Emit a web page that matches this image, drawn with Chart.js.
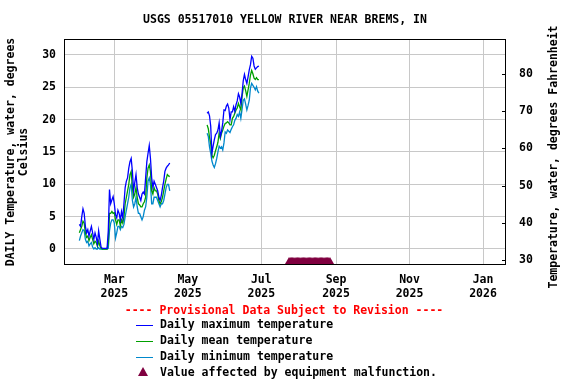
<!DOCTYPE html>
<html>
<head>
<meta charset="utf-8">
<script src="https://cdn.jsdelivr.net/npm/chart.js@4.4.1/dist/chart.umd.min.js"></script>
<style>
  html, body { margin: 0; padding: 0; background: #ffffff; }
  #wrap { width: 576px; height: 384px; }
</style>
</head>
<body>
<div id="wrap"><canvas id="tempChart" width="576" height="384"></canvas></div>
<script>
// Day numbers count from Jan 1 2025 (= day 0)

// First record: Jan 31 - Apr 16 2025
const seg1Start = 30;
const maxTemp1 = [3.8, 3.5, 5.0, 6.2, 5.5, 3.5, 2.5, 3.0, 2.0, 2.8,
  3.5, 2.5, 1.5, 2.5, 1.8, 0.8, 2.8, 1.5, 0.3, 0.1,
  0.1, 0.1, 0.1, 0.1, 2.8, 9.2, 7.0, 7.6, 8.1, 7.0,
  5.3, 4.8, 6.0, 5.5, 4.5, 5.8, 4.8, 7.0, 9.5, 10.5,
  11.0, 12.5, 13.5, 14.0, 12.0, 9.0, 10.3, 11.5, 9.5, 8.5,
  8.0, 7.5, 8.5, 8.8, 8.5, 11.0, 13.5, 14.8, 16.0, 14.0,
  11.0, 9.5, 10.5, 10.0, 9.5, 9.0, 8.0, 7.5, 8.3, 9.5,
  10.5, 12.0, 12.5, 12.8, 13.0, 13.3];
const meanTemp1 = [2.5, 3.0, 3.5, 4.3, 4.0, 2.5, 1.8, 2.0, 1.3, 1.8,
  2.2, 1.5, 0.8, 1.2, 1.0, 0.4, 1.2, 0.5, 0.1, 0.0,
  0.0, 0.0, 0.0, 0.0, 1.0, 5.5, 5.5, 5.8, 5.5, 5.6,
  4.5, 3.8, 4.5, 4.5, 3.6, 4.5, 4.0, 5.0, 7.0, 8.0,
  9.0, 10.0, 11.5, 12.0, 9.5, 8.0, 8.5, 9.5, 8.0, 7.0,
  6.8, 6.5, 6.5, 7.0, 7.3, 8.0, 11.0, 12.5, 13.0, 12.0,
  9.0, 8.5, 9.5, 9.0, 9.0, 8.5, 7.5, 7.0, 7.3, 8.0,
  9.0, 10.0, 10.8, 11.5, 11.3, 11.2];
const minTemp1 = [1.3, 2.0, 2.5, 3.0, 2.8, 1.5, 1.0, 1.2, 0.5, 0.8,
  1.0, 0.3, 0.0, 0.2, 0.0, 0.0, 0.2, 0.0, 0.0, 0.0,
  0.0, 0.0, 0.0, 0.0, 0.1, 2.8, 4.0, 4.5, 4.5, 4.0,
  1.7, 2.5, 3.5, 3.5, 3.0, 3.5, 3.3, 3.8, 5.0, 6.0,
  7.0, 8.0, 9.5, 10.0, 7.5, 6.5, 7.0, 8.0, 6.5, 5.5,
  5.5, 5.0, 4.5, 5.0, 6.0, 6.5, 8.0, 10.5, 11.0, 10.0,
  7.0, 7.0, 8.0, 8.0, 8.0, 7.5, 7.0, 6.5, 7.0, 7.0,
  7.5, 8.5, 9.5, 10.0, 10.0, 9.0];

// Second record: May 17 - Jun 29 2025
const seg2Start = 136;
const maxTemp2 = [21.0, 21.2, 20.6, 19.0, 14.8, 15.9, 16.9, 17.7, 17.9, 18.4,
  19.5, 17.4, 18.2, 19.5, 21.5, 21.4, 22.1, 22.4, 21.8, 20.0,
  21.2, 21.2, 22.0, 21.3, 22.3, 22.9, 24.0, 23.5, 22.5, 24.0,
  26.0, 27.0, 26.2, 25.6, 26.6, 27.7, 28.5, 29.8, 29.5, 28.3,
  27.8, 28.0, 28.2, 28.3];
const meanTemp2 = [19.2, 18.6, 17.3, 16.3, 14.5, 14.1, 14.5, 15.2, 15.8, 16.5,
  17.9, 17.1, 17.9, 18.4, 19.0, 19.4, 19.5, 19.7, 19.5, 19.2,
  19.2, 20.2, 20.5, 21.0, 21.5, 21.8, 22.5, 22.0, 21.5, 23.5,
  24.9, 25.2, 24.5, 23.6, 24.6, 25.6, 26.9, 27.6, 27.1, 26.4,
  26.2, 26.5, 26.2, 26.2];
const minTemp2 = [17.9, 17.4, 15.8, 14.8, 13.6, 13.0, 12.6, 13.2, 14.0, 15.0,
  15.9, 15.6, 15.8, 15.3, 16.4, 18.1, 17.9, 18.4, 18.2, 18.0,
  18.5, 18.9, 19.2, 19.9, 20.2, 20.8, 20.5, 21.2, 20.2, 21.6,
  23.0, 23.2, 22.4, 21.5, 22.2, 23.0, 24.9, 25.6, 25.3, 25.0,
  24.6, 25.1, 24.4, 24.1];

// Days flagged "equipment malfunction" (Jul 24 - Aug 27 2025)
const flagDays = [204, 205, 206, 207, 208, 209, 210, 211, 212, 213, 214, 215,
  216, 217, 218, 219, 220, 221, 222, 223, 224, 225, 226, 227, 228, 229, 230,
  231, 232, 233, 234, 235, 236, 237, 238];
const flagLevel = -2.05;

// Axis ticks
const xTickDays = [59, 120, 181, 243, 304, 365];
const xTickLabels = [['Mar', '2025'], ['May', '2025'], ['Jul', '2025'],
  ['Sep', '2025'], ['Nov', '2025'], ['Jan', '2026']];
const yTicksC = [0, 5, 10, 15, 20, 25, 30];
const yTicksF = [30, 40, 50, 60, 70, 80];

const FONT_FAMILY = '"DejaVu Sans Mono", "Liberation Mono", monospace';
const FONT = 'bold 11.5px ' + FONT_FAMILY;
const GRID_COLOR = '#c8c8c8';
const MAX_COLOR = '#0000ff';
const MEAN_COLOR = '#00a000';
const MIN_COLOR = '#0088cc';
const FLAG_COLOR = '#800040';

// Build {x, y} points with a null gap between the two records
function toPoints(arr1, arr2) {
  const pts = arr1.map((v, i) => ({ x: seg1Start + i, y: v }));
  pts.push({ x: seg1Start + arr1.length, y: null });
  arr2.forEach((v, i) => pts.push({ x: seg2Start + i, y: v }));
  return pts;
}

// Title, axis titles, frame and legend drawn by hand
const usgsExtras = {
  id: 'usgsExtras',
  afterDraw(chart) {
    const { ctx, chartArea: a, scales } = chart;
    ctx.save();
    ctx.font = FONT;
    ctx.fillStyle = '#000';
    ctx.textBaseline = 'middle';

    // Frame
    ctx.strokeStyle = '#000';
    ctx.lineWidth = 1;
    ctx.strokeRect(a.left + 0.5, a.top + 0.5, a.right - a.left - 1, a.bottom - a.top - 1);

    // Right axis tick marks (inside the frame)
    yTicksF.forEach(v => {
      const py = Math.round(scales.y2.getPixelForValue(v)) + 0.5;
      ctx.beginPath();
      ctx.moveTo(a.right - 4, py);
      ctx.lineTo(a.right, py);
      ctx.stroke();
    });

    // Title
    ctx.textAlign = 'center';
    ctx.fillText('USGS 05517010 YELLOW RIVER NEAR BREMS, IN', 285, 20);

    // Left axis title
    ctx.save();
    ctx.translate(11, (a.top + a.bottom) / 2);
    ctx.rotate(-Math.PI / 2);
    ctx.fillText('DAILY Temperature, water, degrees', 0, 0);
    ctx.fillText('Celsius', 0, 13);
    ctx.restore();

    // Right axis title (reads bottom to top)
    ctx.save();
    ctx.translate(554, 157);
    ctx.rotate(-Math.PI / 2);
    ctx.fillText('Temperature, water, degrees Fahrenheit', 0, 0);
    ctx.restore();

    // Legend
    ctx.fillStyle = '#ff0000';
    ctx.fillText('---- Provisional Data Subject to Revision ----', 284, 311);

    ctx.textAlign = 'left';
    const rows = [325, 341, 357];
    const rowColors = [MAX_COLOR, MEAN_COLOR, MIN_COLOR];
    chart.data.datasets.slice(0, 3).forEach((ds, i) => {
      ctx.fillStyle = rowColors[i];
      ctx.fillRect(136, rows[i], 17, 1);
      ctx.fillStyle = '#000';
      ctx.fillText(ds.label, 160, rows[i]);
    });

    const flagDs = chart.data.datasets[3];
    ctx.fillStyle = FLAG_COLOR;
    ctx.beginPath();
    ctx.moveTo(143, 367);
    ctx.lineTo(148, 376);
    ctx.lineTo(138, 376);
    ctx.closePath();
    ctx.fill();
    ctx.fillStyle = '#000';
    ctx.fillText(flagDs.label, 160, 373);

    ctx.restore();
  }
};

const tickFont = { family: FONT_FAMILY, size: 11.5, weight: 'bold' };

const tempChart = new Chart(document.getElementById('tempChart'), {
  type: 'line',
  data: {
    datasets: [
      {
        label: 'Daily maximum temperature',
        data: toPoints(maxTemp1, maxTemp2),
        borderColor: MAX_COLOR,
        borderWidth: 1.3,
        pointRadius: 0,
        spanGaps: false,
        yAxisID: 'y'
      },
      {
        label: 'Daily mean temperature',
        data: toPoints(meanTemp1, meanTemp2),
        borderColor: MEAN_COLOR,
        borderWidth: 1.3,
        pointRadius: 0,
        spanGaps: false,
        yAxisID: 'y'
      },
      {
        label: 'Daily minimum temperature',
        data: toPoints(minTemp1, minTemp2),
        borderColor: MIN_COLOR,
        borderWidth: 1.3,
        pointRadius: 0,
        spanGaps: false,
        yAxisID: 'y'
      },
      {
        label: 'Value affected by equipment malfunction.',
        data: flagDays.map(d => ({ x: d, y: flagLevel })),
        showLine: false,
        pointStyle: 'triangle',
        pointRadius: 5.3,
        backgroundColor: FLAG_COLOR,
        borderColor: FLAG_COLOR,
        borderWidth: 0,
        yAxisID: 'y'
      }
    ]
  },
  options: {
    responsive: false,
    animation: false,
    devicePixelRatio: 1,
    layout: { padding: { top: 39, left: 0, right: 0, bottom: 0 } },
    plugins: {
      legend: { display: false },
      title: { display: false },
      tooltip: { enabled: false }
    },
    scales: {
      x: {
        type: 'linear',
        min: 17.25,
        max: 384.05,
        afterBuildTicks: scale => { scale.ticks = xTickDays.map(v => ({ value: v })); },
        afterFit: scale => { scale.height = 119; },
        ticks: {
          autoSkip: false,
          maxRotation: 0,
          padding: 8,
          color: '#000',
          font: tickFont,
          callback: (value, index) => xTickLabels[index]
        },
        grid: { color: GRID_COLOR, drawTicks: false },
        border: { display: false }
      },
      y: {
        position: 'left',
        min: -2.474,
        max: 32.47,
        afterBuildTicks: scale => { scale.ticks = yTicksC.map(v => ({ value: v })); },
        afterFit: scale => { scale.width = 64; },
        ticks: { padding: 8, color: '#000', font: tickFont },
        grid: { color: GRID_COLOR, drawTicks: false },
        border: { display: false }
      },
      y2: {
        position: 'right',
        min: 28.57,
        max: 89.52,
        afterBuildTicks: scale => { scale.ticks = yTicksF.map(v => ({ value: v })); },
        afterFit: scale => { scale.width = 70; },
        ticks: { padding: 13, color: '#000', font: tickFont },
        grid: { display: false, drawTicks: false },
        border: { display: false }
      }
    }
  },
  plugins: [usgsExtras]
});
</script>
</body>
</html>
